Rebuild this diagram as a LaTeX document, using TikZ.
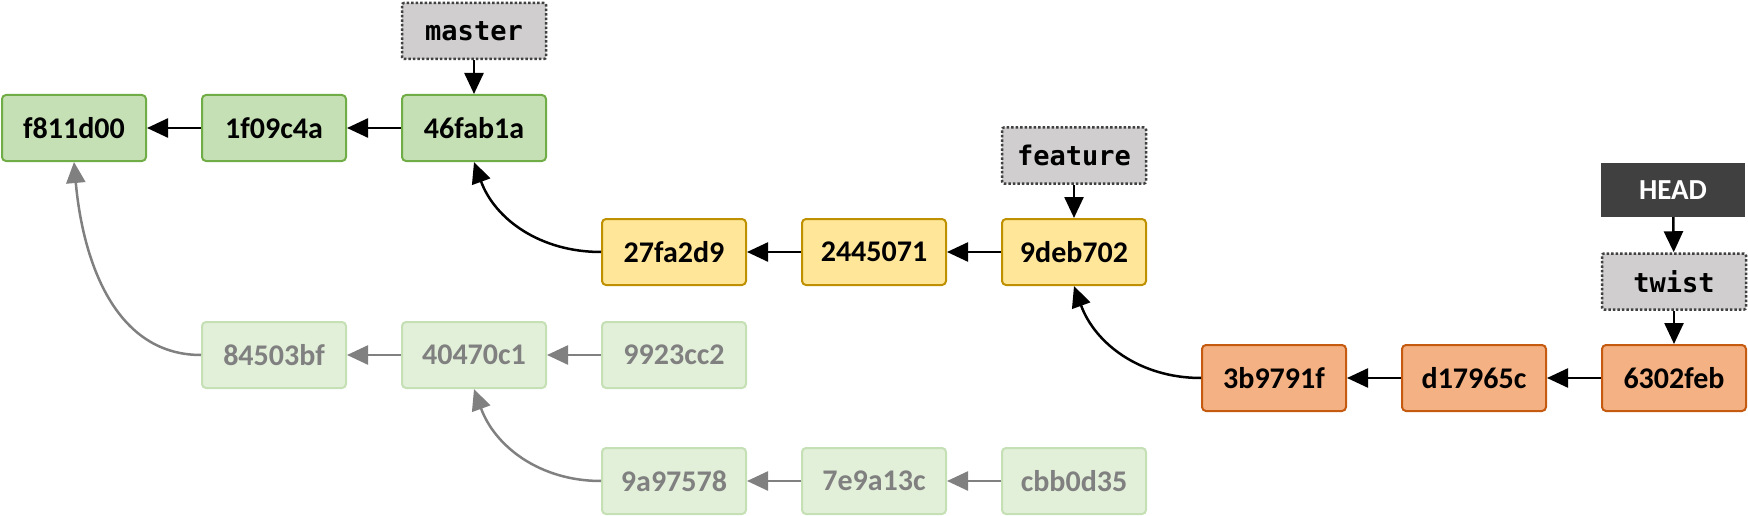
\documentclass[tikz,border=0pt]{standalone}
\usepackage{fontspec}
\setmainfont{Carlito}
\newfontfamily\reffont{DejaVu Sans Mono}
\usetikzlibrary{arrows.meta}

\definecolor{mainfill}{HTML}{C5E0B4}
\definecolor{mainline}{HTML}{70AD47}
\definecolor{featfill}{HTML}{FFE699}
\definecolor{featline}{HTML}{BF9000}
\definecolor{twistfill}{HTML}{F4B183}
\definecolor{twistline}{HTML}{C55A11}
\definecolor{oldfill}{HTML}{E2F0D9}
\definecolor{oldline}{HTML}{C5E0B4}
\definecolor{oldtext}{HTML}{808080}
\definecolor{reffill}{HTML}{D0CECE}
\definecolor{refline}{HTML}{404040}
\definecolor{headfill}{HTML}{404040}

\begin{document}
\begin{tikzpicture}[x=1pt,y=-1pt,
    commit/.style={draw,rounded corners=4pt,line width=2pt,minimum width=144pt,
      minimum height=66pt,inner sep=0pt,font=\fontsize{30}{32}\selectfont\bfseries},
    onmain/.style={commit,fill=mainfill,draw=mainline},
    onfeat/.style={commit,fill=featfill,draw=featline},
    ontwist/.style={commit,fill=twistfill,draw=twistline},
    orphan/.style={commit,fill=oldfill,draw=oldline,text=oldtext},
    branch/.style={draw=refline,fill=reffill,dash pattern=on 2.5pt off 2pt,
      line width=2.5pt,rounded corners=2pt,
      minimum width=144pt,minimum height=56pt,inner sep=0pt,
      font=\reffont\fontsize{27}{30}\selectfont\bfseries},
    headref/.style={fill=headfill,text=white,minimum width=144pt,minimum height=54pt,
      inner sep=0pt,font=\fontsize{29}{30}\selectfont\bfseries},
    parent/.style={-{Triangle[length=21pt,width=19pt]},line width=2.5pt},
    oldparent/.style={parent,draw=oldtext}]
  \useasboundingbox (0,0) rectangle (1748,516);

  % master line
  \node[onmain] (f811d00) at (74,128) {f811d00};
  \node[onmain] (1f09c4a) at (274,128) {1f09c4a};
  \node[onmain] (46fab1a) at (474,128) {46fab1a};
  \node[branch] (master) at (474,31) {master};

  % feature
  \node[onfeat] (27fa2d9) at (674,252) {27fa2d9};
  \node[onfeat] (2445071) at (874,252) {2445071};
  \node[onfeat] (9deb702) at (1074,252) {9deb702};
  \node[branch] (feature) at (1074,155.5) {feature};

  % old commits
  \node[orphan] (84503bf) at (274,355) {84503bf};
  \node[orphan] (40470c1) at (474,355) {40470c1};
  \node[orphan] (9923cc2) at (674,355) {9923cc2};
  \node[orphan] (9a97578) at (674,481) {9a97578};
  \node[orphan] (7e9a13c) at (874,481) {7e9a13c};
  \node[orphan] (cbb0d35) at (1074,481) {cbb0d35};

  % twist
  \node[ontwist] (3b9791f) at (1274,378) {3b9791f};
  \node[ontwist] (d17965c) at (1474,378) {d17965c};
  \node[ontwist] (6302feb) at (1674,378) {6302feb};
  \node[branch] (twist) at (1674,281.5) {twist};
  \node[headref] (head) at (1673,190) {HEAD};

  \draw[parent] (1f09c4a) -- (f811d00);
  \draw[parent] (46fab1a) -- (1f09c4a);
  \draw[parent] (master) -- (46fab1a);
  \draw[parent] (27fa2d9.west) to[out=180,in=-70] (46fab1a.south);
  \draw[parent] (2445071) -- (27fa2d9);
  \draw[parent] (9deb702) -- (2445071);
  \draw[parent] (feature) -- (9deb702);

  \draw[oldparent] (84503bf.west) to[out=180,in=-85] (f811d00.south);
  \draw[oldparent] (40470c1) -- (84503bf);
  \draw[oldparent] (9923cc2) -- (40470c1);
  \draw[oldparent] (9a97578.west) to[out=180,in=-70] (40470c1.south);
  \draw[oldparent] (7e9a13c) -- (9a97578);
  \draw[oldparent] (cbb0d35) -- (7e9a13c);

  \draw[parent] (3b9791f.west) to[out=180,in=-70] (9deb702.south);
  \draw[parent] (d17965c) -- (3b9791f);
  \draw[parent] (6302feb) -- (d17965c);
  \draw[parent] (head) -- (twist);
  \draw[parent] (twist) -- (6302feb);
\end{tikzpicture}
\end{document}
